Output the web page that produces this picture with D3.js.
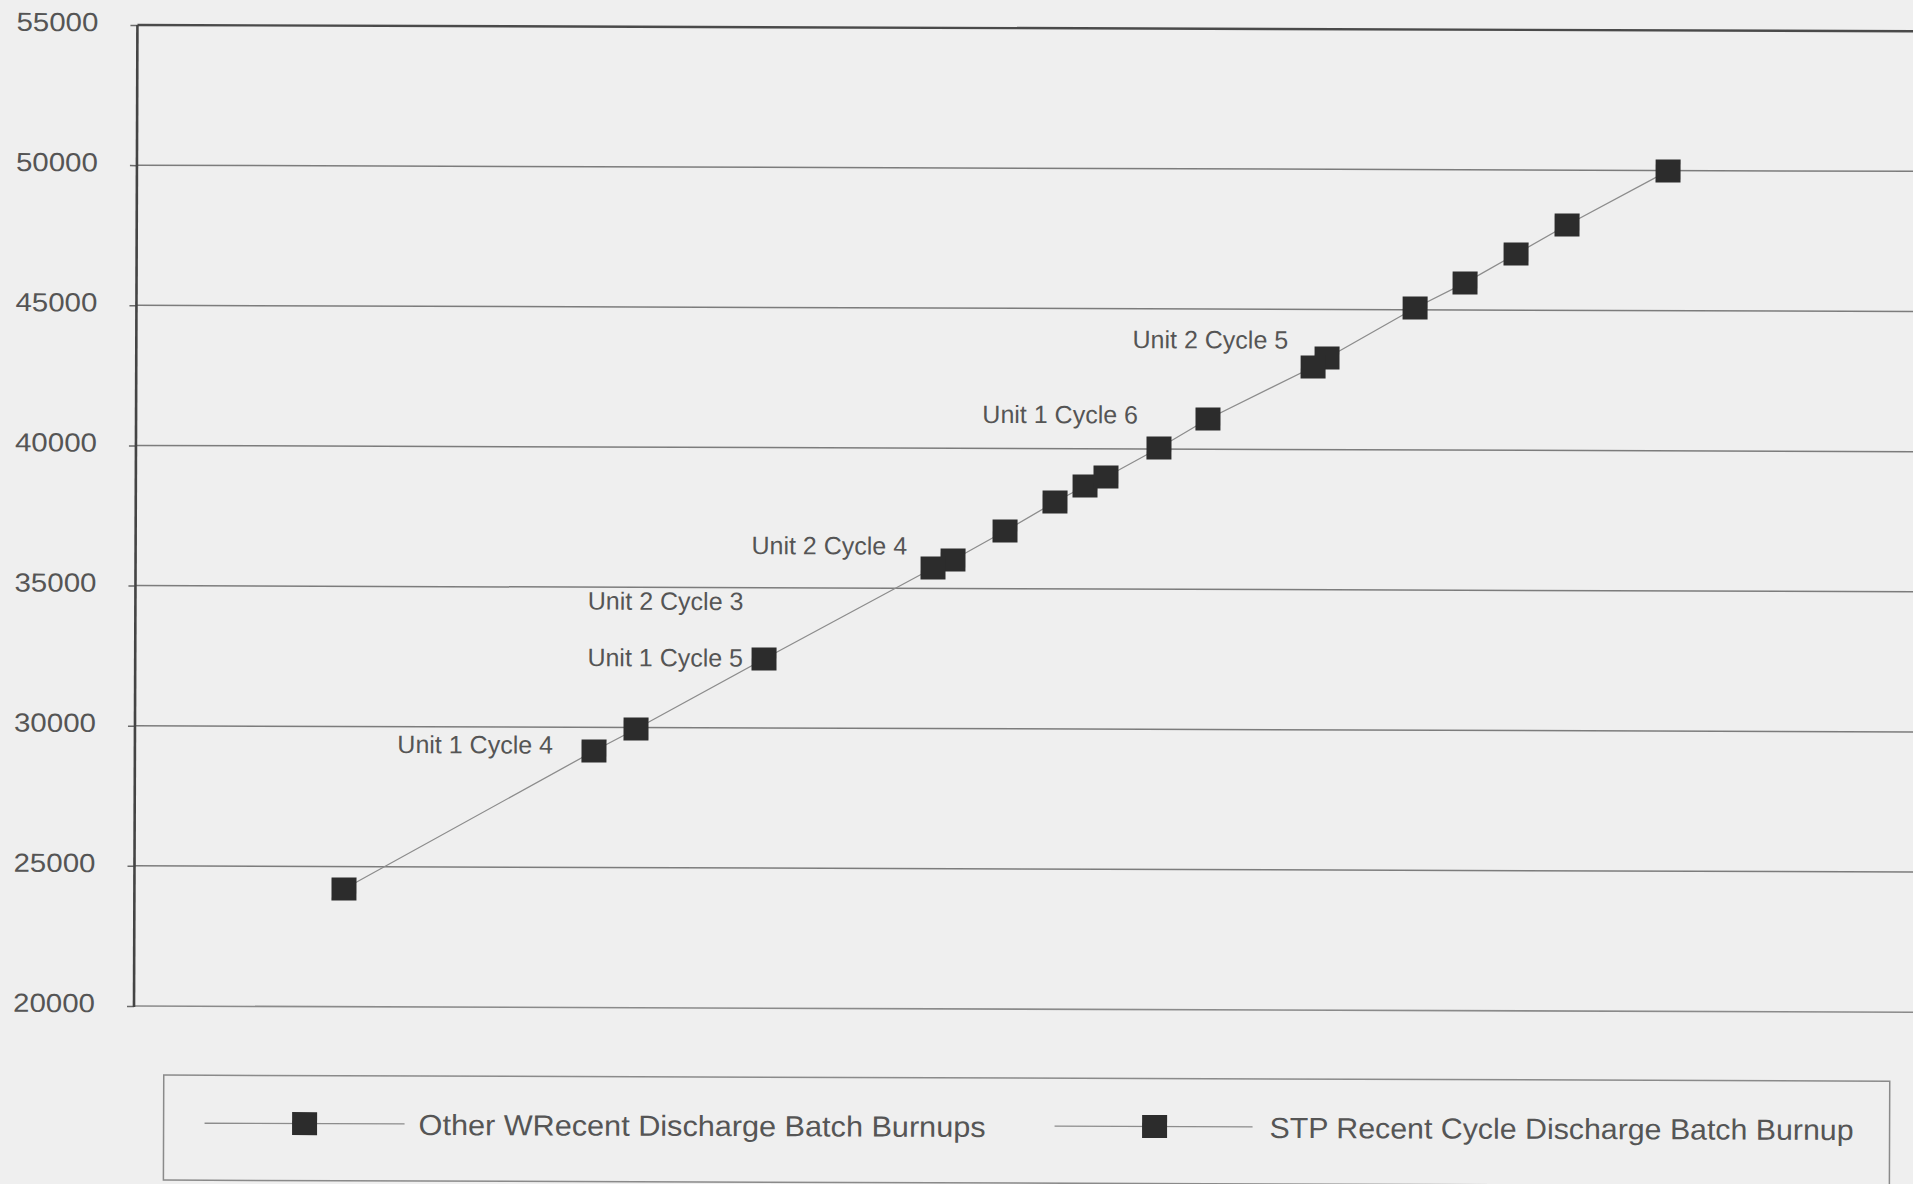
<!DOCTYPE html>
<html>
<head>
<meta charset="utf-8">
<script src="https://cdn.jsdelivr.net/npm/d3@7"></script>
<style>
  html, body { margin: 0; padding: 0; background: #efefef; }
  svg { display: block; }
</style>
</head>
<body>
<svg id="chart" width="1913" height="1184"></svg>
<script>
// Burnup axis ticks (MWD/MTU)
const yTicks = [20000, 25000, 30000, 35000, 40000, 45000, 50000, 55000];

// Series names shown in the legend
const seriesNames = [
  "Other WRecent Discharge Batch Burnups",
  "STP Recent Cycle Discharge Batch Burnup"
];

// Other Westinghouse plants: recent discharge batch burnups
// (horizontal position and plotted burnup)
const otherX = [24206, 36065, 37078, 38051, 38636, 39044, 40076,
                43348, 45063, 46036, 47029, 48022, 49989];
const otherBurnups = [24200, 36016, 37054, 38096, 38670, 38995, 40037,
                      43269, 45064, 45963, 47001, 48043, 49984];

// STP cycles and their discharge batch burnups
const stpLabels = ["Unit 1 Cycle 4", "Unit 2 Cycle 3", "Unit 1 Cycle 5",
                   "Unit 2 Cycle 4", "Unit 1 Cycle 6", "Unit 2 Cycle 5"];
const stpX = [29074, 29892, 32385, 35676, 41030, 43077];
const stpBurnups = [29155, 29946, 32459, 35727, 41078, 42945];

// ---- layout ----
const W = 1913, H = 1184;
const plotLeft = 134, plotTop = 25, plotBottom = 1006, plotRight = 1925;
const markerW = 25, markerH = 23;
const textColor = "#555";
const fontFamily = "'Liberation Sans', Arial, Helvetica, sans-serif";

// label placement relative to each STP marker (end of text, vertical centre)
const labelShift = [[-41, -6], [107, -128], [-21, -1], [-26, -22], [-70, -4], [-25, -27]];

const svg = d3.select("#chart");
svg.append("rect").attr("width", W).attr("height", H).attr("fill", "#efefef");

// the whole sheet sits very slightly turned
const g = svg.append("g").attr("transform", `rotate(0.2,${plotLeft},${plotBottom})`);

const y = d3.scaleLinear().domain([20000, 55000]).range([plotBottom, plotTop]);
const x = d3.scaleLinear().domain([20000, 55000]).range([128, 1922]);

// horizontal gridlines
g.append("g").selectAll("line").data(yTicks.filter(v => v > 20000 && v < 55000)).join("line")
  .attr("x1", plotLeft).attr("x2", plotRight)
  .attr("y1", d => y(d)).attr("y2", d => y(d))
  .attr("stroke", "#7c7c7c").attr("stroke-width", 1.5);

// bottom edge of the plot
g.append("line")
  .attr("x1", plotLeft).attr("x2", plotRight)
  .attr("y1", y(20000)).attr("y2", y(20000))
  .attr("stroke", "#8a8a8a").attr("stroke-width", 1.6);

// top edge of the plot
g.append("line")
  .attr("x1", plotLeft).attr("x2", plotRight)
  .attr("y1", y(55000)).attr("y2", y(55000))
  .attr("stroke", "#4a4a4a").attr("stroke-width", 2.4);

// left value axis
const yAxis = d3.axisLeft(y).tickValues(yTicks).tickSizeInner(7).tickSizeOuter(0)
  .tickPadding(32).tickFormat(d3.format("d"));
const ax = g.append("g").attr("transform", `translate(${plotLeft},0)`).call(yAxis);
ax.select(".domain").remove();
ax.selectAll(".tick line").attr("stroke", "#6a6a6a").attr("stroke-width", 1.5);
ax.selectAll(".tick text")
  .attr("fill", textColor)
  .attr("font-family", fontFamily)
  .attr("font-size", 26)
  .attr("dy", "0.22em")
  .attr("textLength", 82)
  .attr("lengthAdjust", "spacingAndGlyphs");
g.append("line")
  .attr("x1", plotLeft).attr("x2", plotLeft)
  .attr("y1", plotTop).attr("y2", plotBottom + 1)
  .attr("stroke", "#444").attr("stroke-width", 2.6);

// series as point lists
const otherPts = otherX.map((v, i) => [v, otherBurnups[i]]);
const stpPts = stpX.map((v, i) => [v, stpBurnups[i]]);

// one trend line through every batch, in burnup order
const allPts = otherPts.concat(stpPts).sort((a, b) => a[0] - b[0]);
const line = d3.line().x(d => x(d[0])).y(d => y(d[1]));
g.append("path")
  .attr("d", line(allPts))
  .attr("fill", "none").attr("stroke", "#8c8c8c").attr("stroke-width", 1.3);

// markers
function drawMarkers(pts) {
  g.append("g").selectAll("rect").data(pts).join("rect")
    .attr("x", d => x(d[0]) - markerW / 2)
    .attr("y", d => y(d[1]) - markerH / 2)
    .attr("width", markerW).attr("height", markerH)
    .attr("fill", "#2c2c2c");
}
drawMarkers(otherPts);
drawMarkers(stpPts);

// STP cycle labels
g.append("g").selectAll("text").data(stpPts).join("text")
  .attr("x", (d, i) => x(d[0]) + labelShift[i][0])
  .attr("y", (d, i) => y(d[1]) + labelShift[i][1])
  .attr("dy", "0.35em")
  .attr("text-anchor", "end")
  .attr("fill", textColor)
  .attr("font-family", fontFamily)
  .attr("font-size", 25)
  .text((d, i) => stpLabels[i]);

// legend
const legend = g.append("g");
legend.append("rect")
  .attr("x", 164).attr("y", 1075).attr("width", 1726).attr("height", 105)
  .attr("fill", "none").attr("stroke", "#8a8a8a").attr("stroke-width", 1.5);

const legendItems = [
  { name: seriesNames[0], x0: 205, x1: 405, mx: 305, tx: 419, tw: 567 },
  { name: seriesNames[1], x0: 1055, x1: 1253, mx: 1155, tx: 1270, tw: 584 }
];
const legendY = 1123;
const li = legend.selectAll("g.item").data(legendItems).join("g").attr("class", "item");
li.append("line")
  .attr("x1", d => d.x0).attr("x2", d => d.x1)
  .attr("y1", legendY).attr("y2", legendY)
  .attr("stroke", "#8c8c8c").attr("stroke-width", 1.3);
li.append("rect")
  .attr("x", d => d.mx - markerW / 2).attr("y", legendY - markerH / 2)
  .attr("width", markerW).attr("height", markerH)
  .attr("fill", "#2c2c2c");
li.append("text")
  .attr("x", d => d.tx).attr("y", legendY + 11)
  .attr("fill", textColor)
  .attr("font-family", fontFamily)
  .attr("font-size", 29)
  .attr("textLength", d => d.tw)
  .attr("lengthAdjust", "spacingAndGlyphs")
  .text(d => d.name);
</script>
</body>
</html>
